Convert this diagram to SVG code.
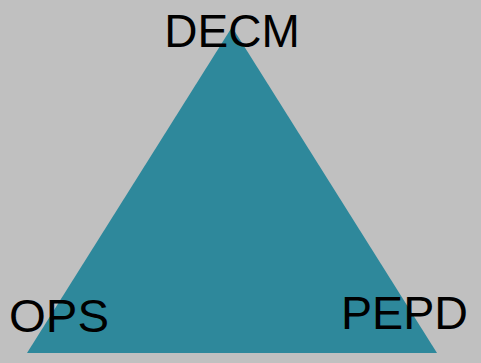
<svg xmlns="http://www.w3.org/2000/svg" width="481" height="363" viewBox="0 0 481 363">
<style>
.lbl{font-family:"Liberation Sans",Arial,sans-serif;font-size:46px;fill:#000}
</style>
<rect width="481" height="363" fill="#c0c0c0"/>
<g id="triangle">
<polygon points="232,27 437,353 27,353" fill="#2e889b"/>
</g>
<g id="connectors"></g>
<g id="decm"><text class="lbl" x="232" y="47" text-anchor="middle">DECM</text></g>
<g id="ops"><text class="lbl" x="9" y="332" textLength="100" lengthAdjust="spacingAndGlyphs">OPS</text></g>
<g id="pepd"><text class="lbl" x="341" y="329" textLength="127" lengthAdjust="spacingAndGlyphs">PEPD</text></g>
</svg>
